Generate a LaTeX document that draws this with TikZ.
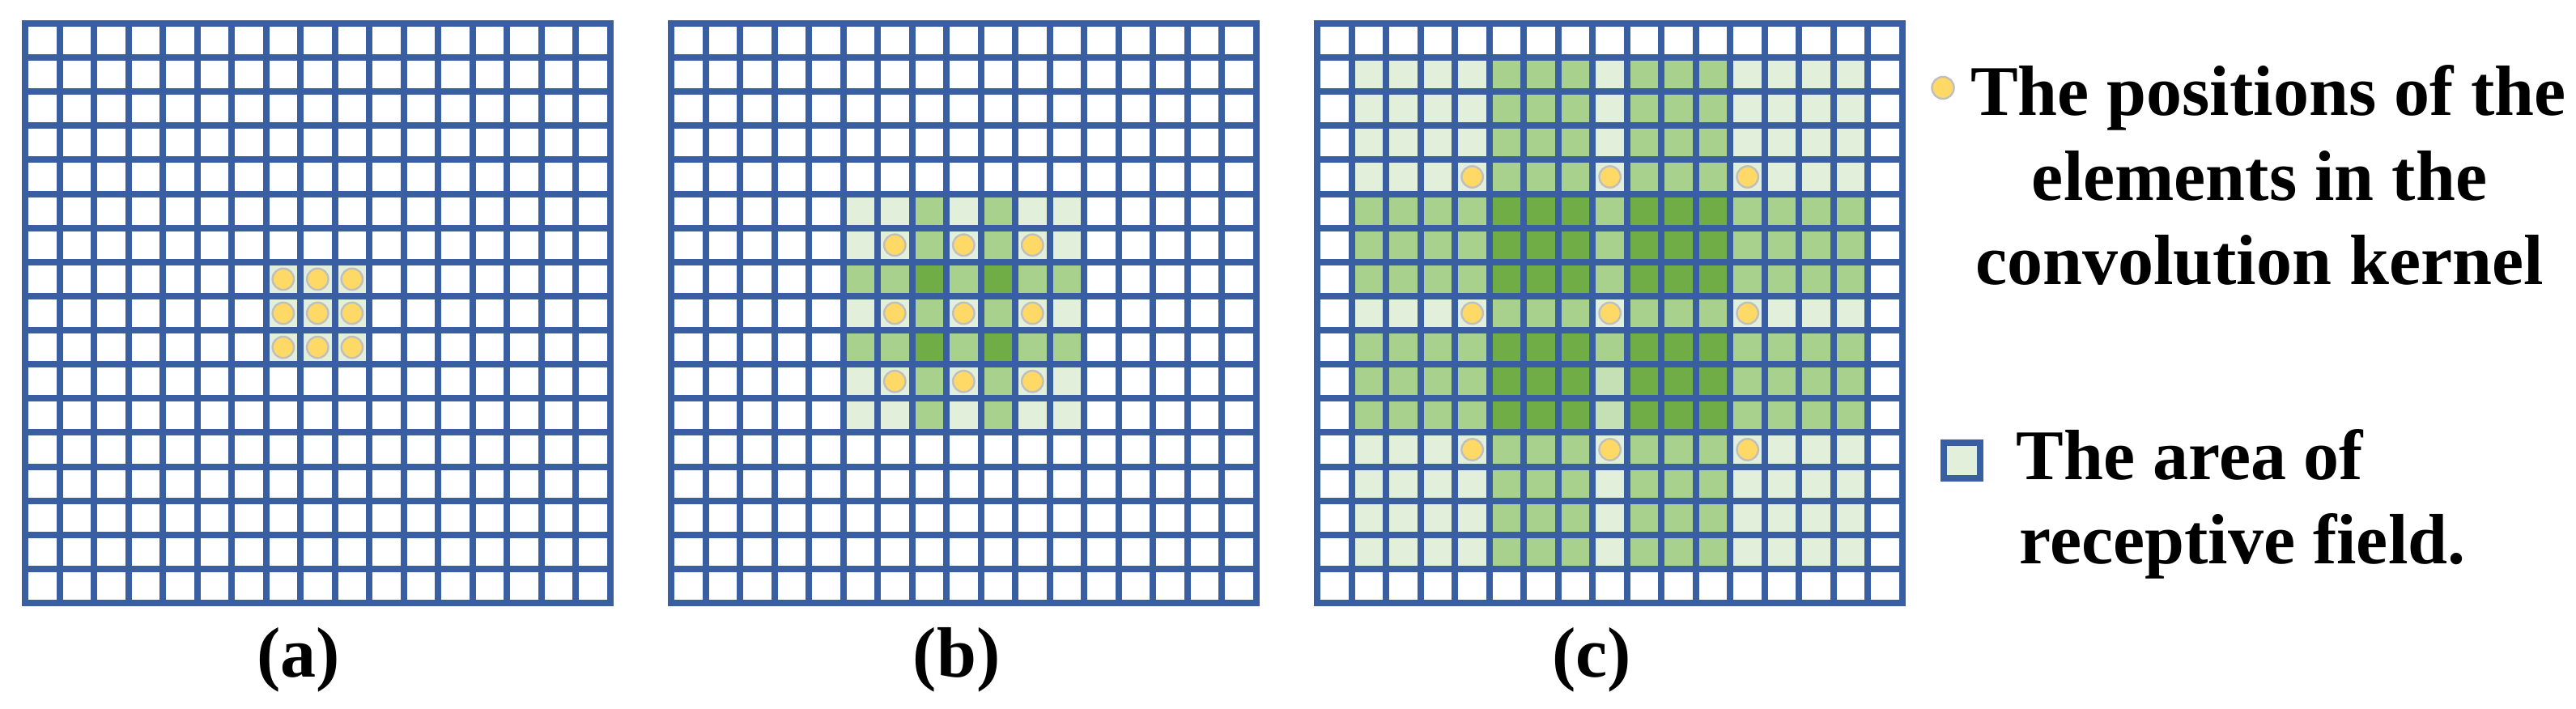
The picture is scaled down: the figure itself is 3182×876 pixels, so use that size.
\documentclass[tikz,border=0pt]{standalone}
\usepackage{fontspec}
\setmainfont{Liberation Serif}
\definecolor{gridblue}{RGB}{58,94,162}
\definecolor{lvlzero}{HTML}{E2EFDA}
\definecolor{lvlone}{HTML}{A9D18E}
\definecolor{lvltwo}{HTML}{70AD47}
\definecolor{lvlpale}{HTML}{C5E0B4}
\definecolor{dotfill}{HTML}{FFD966}
\definecolor{dotline}{HTML}{BFBFBF}
\tikzset{
  gridline/.style={draw=gridblue, line width=2pt, line cap=rect},
  kdot/.style={fill=dotfill, draw=dotline, line width=0.6pt},
  lbl/.style={font=\fontsize{22}{26}\selectfont\bfseries, inner sep=0pt, text=black},
}
\newcommand\pxx{42.51}
\newcommand\pyy{42.12}
\newcommand\gtop{29}
% cell fill: #1 = grid x0, #2 = col, #3 = row, #4 = colour
\newcommand\cellfill[4]{\fill[#4] ({#1+#2*\pxx},{\gtop+#3*\pyy}) rectangle ++(\pxx,\pyy);}
\newcommand\kerneldot[3]{\draw[kdot] ({#1+(#2+0.5)*\pxx},{\gtop+(#3+0.5)*\pyy}) circle[radius=3.3pt];}
\newcommand\drawgrid[1]{%
  \foreach \i in {0,...,17}{
    \draw[gridline] ({#1+\i*\pxx},\gtop) -- ({#1+\i*\pxx},{\gtop+17*\pyy});
    \draw[gridline] (#1,{\gtop+\i*\pyy}) -- ({#1+17*\pxx},{\gtop+\i*\pyy});
  }}
\begin{document}
\begin{tikzpicture}[x=0.25pt,y=-0.25pt]
\useasboundingbox (0,0) rectangle (3182,876);
% ---------- (a) ----------
\def\xa{31}
\foreach \c in {7,8,9}{\foreach \r in {7,8,9}{\cellfill{\xa}{\c}{\r}{lvlzero}}}
\drawgrid{\xa}
\foreach \c in {7,8,9}{\foreach \r in {7,8,9}{\kerneldot{\xa}{\c}{\r}}}
% ---------- (b) ----------
\def\xb{829}
\foreach \c/\cc in {5/0,6/0,7/1,8/0,9/1,10/0,11/0}{
  \foreach \r/\rc in {5/0,6/0,7/1,8/0,9/1,10/0,11/0}{
    \pgfmathtruncatemacro\k{\cc+\rc}
    \ifcase\k \cellfill{\xb}{\c}{\r}{lvlzero}\or \cellfill{\xb}{\c}{\r}{lvlone}\or \cellfill{\xb}{\c}{\r}{lvltwo}\fi
  }}
\drawgrid{\xb}
\foreach \c in {6,8,10}{\foreach \r in {6,8,10}{\kerneldot{\xb}{\c}{\r}}}
% ---------- (c) ----------
\def\xc{1627.3}
\foreach \c/\cc in {1/0,2/0,3/0,4/0,5/1,6/1,7/1,8/0,9/1,10/1,11/1,12/0,13/0,14/0,15/0}{
  \foreach \r/\rc in {1/0,2/0,3/0,4/0,5/1,6/1,7/1,8/0,9/1,10/1,11/1,12/0,13/0,14/0,15/0}{
    \pgfmathtruncatemacro\k{\cc+\rc}
    \ifcase\k \cellfill{\xc}{\c}{\r}{lvlzero}\or \cellfill{\xc}{\c}{\r}{lvlone}\or \cellfill{\xc}{\c}{\r}{lvltwo}\fi
  }}
\cellfill{\xc}{8}{10}{lvlpale}
\cellfill{\xc}{8}{11}{lvlpale}
\drawgrid{\xc}
\foreach \c in {4,8,12}{\foreach \r in {4,8,12}{\kerneldot{\xc}{\c}{\r}}}
% ---------- captions ----------
\node[lbl, anchor=base] (capa) at (368.5,836.7) {(a)};
\node[lbl, anchor=base] (capb) at (1181.7,836.7) {(b)};
\node[lbl, anchor=base] (capc) at (1966,836.7) {(c)};
% ---------- legend ----------
\draw[kdot] (2400,108.5) circle[radius=3.4pt];
\node[lbl, anchor=base] (legaa) at (2802,143) {The positions of the};
\node[lbl, anchor=base] (legab) at (2791,247.5) {elements in the};
\node[lbl, anchor=base] (legac) at (2791,351.5) {convolution kernel};
\draw[fill=lvlzero, draw=gridblue, line width=2pt] (2400.7,546.7) rectangle (2446.2,591);
\node[lbl, anchor=base west] (legba) at (2490,593) {The area of};
\node[lbl, anchor=base west] (legbb) at (2494,697) {receptive field.};
\end{tikzpicture}
\end{document}
